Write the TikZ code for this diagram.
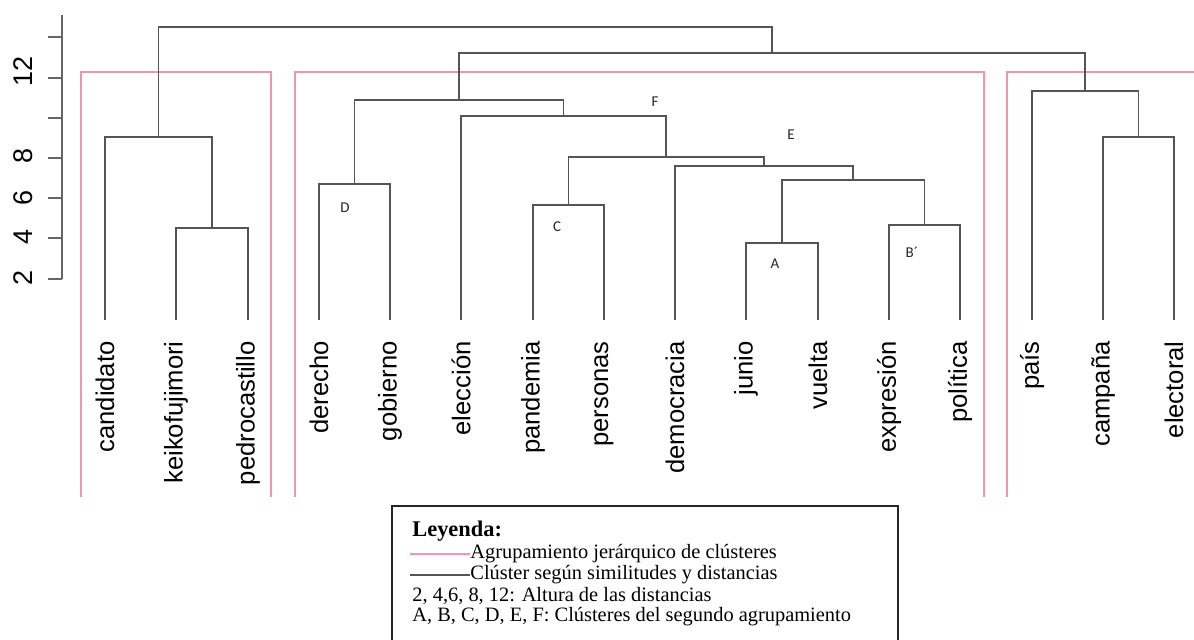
\documentclass[tikz,border=0pt]{standalone}
\usepackage{fontspec}
\setmainfont{Liberation Serif}
\setsansfont{Liberation Sans}
\newfontfamily\calfont{Carlito}
\usepackage{tikz}
\usepackage{xcolor}

\definecolor{rosa}{RGB}{240,150,170}
\definecolor{gris}{RGB}{85,85,85}

\tikzset{
  dendro/.style={draw=gris, line width=0.85pt},
  grupo/.style={draw=rosa, line width=0.7pt},
  hoja/.style={rotate=90, anchor=east, inner sep=0pt, font=\sffamily\fontsize{12.8}{14}\selectfont},
  altura/.style={rotate=90, inner sep=0pt, font=\sffamily\fontsize{13.5}{14}\selectfont},
  letra/.style={inner sep=0pt, text=black!85, font=\calfont\fontsize{7.5}{9}\selectfont},
  leyenda/.style={anchor=west, inner sep=0pt, font=\fontsize{10.2}{12}\selectfont}
}

\begin{document}
\begin{tikzpicture}[x=0.5pt,y=0.5pt,yscale=-1,xscale=1]
\useasboundingbox (0,0) rectangle (1194,639);

%Shape: Axis
\draw [draw=black!60, line width=0.75pt]  (62,15) -- (62,279) (48,37) -- (62,37) (48,78) -- (62,78) (48,118) -- (62,118) (48,158) -- (62,158) (48,198) -- (62,198) (48,238) -- (62,238) (48,279) -- (62,279) ;
% Text Node
\node [altura] (h12) at (23,71) {12};
\node [altura] (h8) at (23,156) {8};
\node [altura] (h6) at (23,198) {6};
\node [altura] (h4) at (23,237) {4};
\node [altura] (h2) at (23,278) {2};

%Shape: Cluster boxes
\draw [grupo]  (81,497) |- (271,72) -- (271,497) ;
\draw [grupo]  (295,497) |- (984,72) -- (984,497) ;
\draw [grupo]  (1007,497) |- (1200,72) ;

%Leaves
\coordinate (candidato) at (105,320);
\coordinate (keikofujimori) at (176,320);
\coordinate (pedrocastillo) at (248,320);
\coordinate (derecho) at (319,320);
\coordinate (gobierno) at (390,320);
\coordinate (eleccion) at (461,320);
\coordinate (pandemia) at (533,320);
\coordinate (personas) at (604,320);
\coordinate (democracia) at (675,320);
\coordinate (junio) at (746,320);
\coordinate (vuelta) at (818,320);
\coordinate (expresion) at (889,320);
\coordinate (politica) at (960,320);
\coordinate (pais) at (1032,320);
\coordinate (campana) at (1103,320);
\coordinate (electoral) at (1174,320);

% Text Node
\node [hoja] (tcandidato) at (105,341) {candidato};
\node [hoja] (tkeikofujimori) at (176,341) {keikofujimori};
\node [hoja] (tpedrocastillo) at (248,341) {pedrocastillo};
\node [hoja] (tderecho) at (319,341) {derecho};
\node [hoja] (tgobierno) at (390,341) {gobierno};
\node [hoja] (teleccion) at (461,341) {elección};
\node [hoja] (tpandemia) at (533,341) {pandemia};
\node [hoja] (tpersonas) at (604,341) {personas};
\node [hoja] (tdemocracia) at (675,341) {democracia};
\node [hoja] (tjunio) at (746,341) {junio};
\node [hoja] (tvuelta) at (818,341) {vuelta};
\node [hoja] (texpresion) at (889,341) {expresión};
\node [hoja] (tpolitica) at (960,341) {política};
\node [hoja] (tpais) at (1032,341) {país};
\node [hoja] (tcampana) at (1103,341) {campaña};
\node [hoja] (telectoral) at (1174,341) {electoral};

%Merges
\coordinate (kp) at (212,228);
\coordinate (ckp) at (158.5,137);
\coordinate (cD) at (354.5,184);
\coordinate (cC) at (568.5,205);
\coordinate (cA) at (782,243);
\coordinate (cB) at (924.5,225);
\coordinate (ab) at (853.25,180);
\coordinate (dab) at (764,166);
\coordinate (cE) at (666.25,157);
\coordinate (ece) at (563.6,116);
\coordinate (cF) at (459,100);
\coordinate (cel) at (1138.5,137);
\coordinate (pcel) at (1085,91);
\coordinate (mid) at (772,53);
\coordinate (top) at (465,27);

%Straight Lines
\draw [dendro]  (keikofujimori) |- (kp) -| (pedrocastillo) ;
\draw [dendro]  (candidato) |- (ckp) -| (kp) ;
\draw [dendro]  (derecho) |- (cD) -| (gobierno) ;
\draw [dendro]  (pandemia) |- (cC) -| (personas) ;
\draw [dendro]  (junio) |- (cA) -| (vuelta) ;
\draw [dendro]  (expresion) |- (cB) -| (politica) ;
\draw [dendro]  (cA) |- (ab) -| (cB) ;
\draw [dendro]  (democracia) |- (dab) -| (ab) ;
\draw [dendro]  (cC) |- (cE) -| (dab) ;
\draw [dendro]  (eleccion) |- (ece) -| (cE) ;
\draw [dendro]  (cD) |- (cF) -| (ece) ;
\draw [dendro]  (campana) |- (cel) -| (electoral) ;
\draw [dendro]  (pais) |- (pcel) -| (cel) ;
\draw [dendro]  (cF) |- (mid) -| (pcel) ;
\draw [dendro]  (ckp) |- (top) -| (mid) ;

% Text Node
\node [letra] (lF) at (655,102) {F};
\node [letra] (lE) at (791,135) {E};
\node [letra] (lD) at (345,208) {D};
\node [letra] (lC) at (557,227) {C};
\node [letra] (lA) at (775,264) {A};
\node [letra] (lB) at (912,252) {B´};

%Shape: Legend
\draw [draw=black!85, line width=0.8pt]  (392,506) rectangle (898,650) ;
\node [leyenda, font=\bfseries\fontsize{11.2}{13}\selectfont] (ley) at (412,531) {Leyenda:};
\coordinate (r1) at (410,554);
\coordinate (g1) at (410,575);
\node [leyenda] (ley1) at (470,554) {Agrupamiento jerárquico de clústeres};
\node [leyenda] (ley2) at (470,575) {Clúster según similitudes y distancias};
\node [leyenda] (ley3) at (412,596) {2, 4,6, 8, 12: Altura de las distancias};
\node [leyenda] (ley4) at (412,617) {A, B, C, D, E, F: Clústeres del segundo agrupamiento};
\draw [draw={rgb,255:red,250;green,140;blue,210}, line width=0.8pt]  (r1) -- (ley1.west) ;
\draw [draw=gris, line width=1pt]  (g1) -- (ley2.west) ;

\end{tikzpicture}
\end{document}
